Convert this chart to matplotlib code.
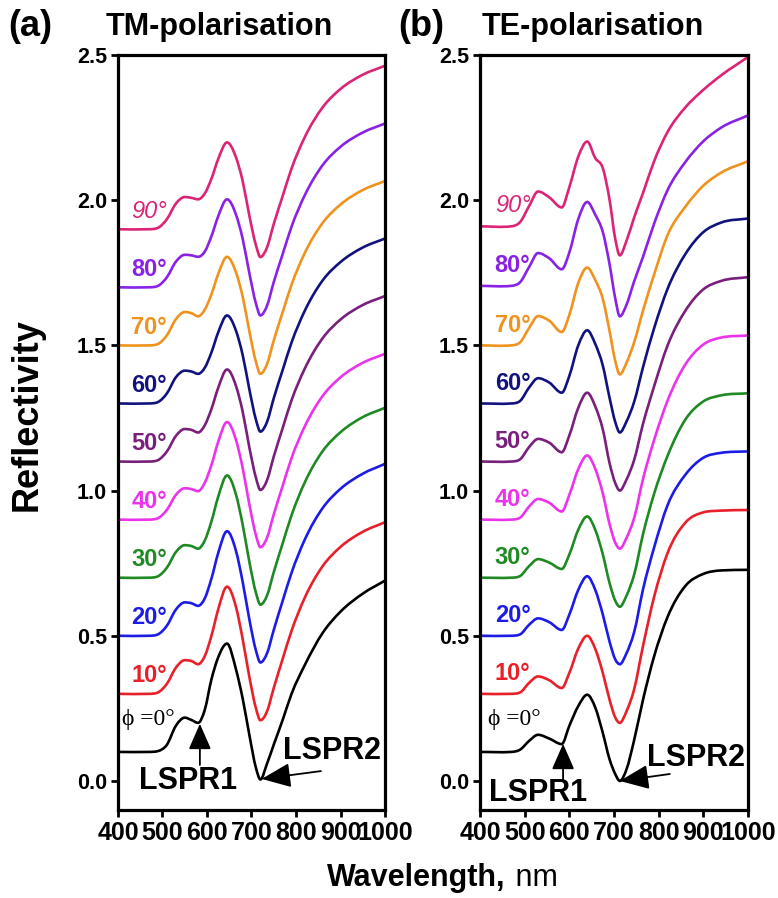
import numpy as np
import matplotlib
matplotlib.use("Agg")
import matplotlib.pyplot as plt
from matplotlib.path import Path
from matplotlib.patches import PathPatch

# ---------------- data ----------------
angle_labels = ["10°", "20°", "30°", "40°", "50°", "60°", "70°", "80°", "90°"]
angle_colors = ["#e8202a", "#1c1ce6", "#1f8a24", "#ec33ec", "#7a1f7c",
                "#12127e", "#f0921e", "#8a22e6", "#dc2477"]

# TM polarisation
tm_wl = [400, 470, 490, 510, 530, 550, 565, 580, 595, 610, 625, 645, 665,
         680, 695, 710, 720, 735, 750, 770, 790, 820, 860, 900, 950, 1000]
tm_0 = [0.10, 0.10, 0.103, 0.125, 0.19, 0.218, 0.21, 0.20, 0.245, 0.35, 0.425,
        0.473, 0.385, 0.285, 0.16, 0.045, 0.005, 0.06, 0.125, 0.21, 0.30, 0.40,
        0.51, 0.583, 0.645, 0.69]
tm_offsets = [0.3, 0.5, 0.7, 0.9, 1.1, 1.3, 1.5, 1.7, 1.9]
tm_10 = [0, 0, 0.005, 0.035, 0.09, 0.116, 0.113, 0.102, 0.130, 0.200, 0.290, 0.369, 0.300,
         0.190, 0.060, -0.050, -0.091, -0.060, 0.020, 0.120, 0.217, 0.332, 0.440, 0.506, 0.558, 0.591]
tm_20 = [0, 0, 0.005, 0.035, 0.09, 0.115, 0.112, 0.103, 0.129, 0.197, 0.284, 0.360, 0.293,
         0.187, 0.058, -0.051, -0.092, -0.060, 0.020, 0.120, 0.217, 0.332, 0.440, 0.506, 0.558, 0.592]
tm_30 = [0, 0, 0.005, 0.035, 0.088, 0.112, 0.109, 0.100, 0.128, 0.194, 0.278, 0.352, 0.287,
         0.184, 0.056, -0.052, -0.093, -0.061, 0.019, 0.118, 0.215, 0.329, 0.436, 0.501, 0.553, 0.585]
tm_40 = [0, 0, 0.005, 0.034, 0.085, 0.108, 0.105, 0.098, 0.127, 0.188, 0.267, 0.336, 0.275,
         0.179, 0.054, -0.054, -0.095, -0.062, 0.018, 0.116, 0.212, 0.322, 0.426, 0.490, 0.540, 0.571]
tm_50 = [0, 0, 0.005, 0.035, 0.088, 0.112, 0.109, 0.100, 0.125, 0.181, 0.253, 0.317, 0.261,
         0.173, 0.050, -0.056, -0.098, -0.064, 0.017, 0.115, 0.211, 0.321, 0.425, 0.489, 0.539, 0.570]
tm_60 = [0, 0, 0.005, 0.035, 0.09, 0.113, 0.110, 0.102, 0.123, 0.176, 0.244, 0.303, 0.251,
         0.168, 0.050, -0.056, -0.097, -0.063, 0.018, 0.115, 0.210, 0.320, 0.424, 0.487, 0.537, 0.568]
tm_70 = [0, 0, 0.005, 0.035, 0.09, 0.115, 0.111, 0.100, 0.123, 0.176, 0.245, 0.305, 0.252,
         0.169, 0.050, -0.057, -0.098, -0.064, 0.017, 0.114, 0.209, 0.319, 0.422, 0.485, 0.535, 0.566]
tm_80 = [0, 0, 0.005, 0.035, 0.088, 0.112, 0.110, 0.105, 0.123, 0.176, 0.244, 0.303, 0.251,
         0.168, 0.050, -0.056, -0.097, -0.063, 0.018, 0.114, 0.209, 0.318, 0.421, 0.484, 0.533, 0.564]
tm_90 = [0, 0, 0.005, 0.035, 0.088, 0.111, 0.108, 0.103, 0.123, 0.174, 0.241, 0.299, 0.248,
         0.167, 0.048, -0.055, -0.096, -0.062, 0.018, 0.114, 0.209, 0.318, 0.420, 0.483, 0.532, 0.563]

# TE polarisation
te_wl = [400, 470, 490, 510, 530, 555, 583, 600, 620, 640, 658, 675, 690,
         703, 713, 728, 745, 765, 790, 820, 860, 900, 940, 1000]
te_0 = [0.10, 0.10, 0.108, 0.138, 0.159, 0.146, 0.127, 0.19, 0.258, 0.297, 0.253, 0.165,
        0.075, 0.023, 0.0, 0.04, 0.14, 0.28, 0.43, 0.565, 0.672, 0.713, 0.725, 0.727]
te_offsets = [0.3, 0.5, 0.7, 0.9, 1.1, 1.3, 1.5, 1.705, 1.91]
te_10 = [0, 0, 0.005, 0.038, 0.06, 0.047, 0.02, 0.072, 0.156, 0.2, 0.155, 0.072, -0.02,
         -0.082, -0.1, -0.06, 0.015, 0.165, 0.335, 0.485, 0.59, 0.625, 0.631, 0.633]
te_20 = [0, 0, 0.005, 0.038, 0.06, 0.047, 0.02, 0.073, 0.158, 0.205, 0.158, 0.073, -0.02,
         -0.082, -0.098, -0.06, 0.012, 0.16, 0.305, 0.45, 0.555, 0.613, 0.63, 0.635]
te_30 = [0, 0, 0.006, 0.04, 0.064, 0.052, 0.03, 0.08, 0.165, 0.211, 0.165, 0.08, -0.018,
         -0.08, -0.1, -0.062, 0.01, 0.15, 0.29, 0.42, 0.545, 0.607, 0.628, 0.635]
te_40 = [0, 0, 0.007, 0.045, 0.071, 0.058, 0.028, 0.085, 0.174, 0.221, 0.175, 0.09, -0.015,
         -0.08, -0.1, -0.063, 0.005, 0.14, 0.275, 0.41, 0.535, 0.603, 0.627, 0.634]
te_50 = [0, 0, 0.008, 0.05, 0.078, 0.065, 0.032, 0.09, 0.185, 0.237, 0.19, 0.11, -0.005,
         -0.075, -0.1, -0.062, 0.005, 0.13, 0.26, 0.40, 0.52, 0.593, 0.622, 0.635]
te_60 = [0, 0, 0.009, 0.055, 0.087, 0.072, 0.037, 0.095, 0.2, 0.252, 0.205, 0.13, 0.02,
         -0.065, -0.1, -0.062, 0.005, 0.125, 0.26, 0.395, 0.515, 0.59, 0.623, 0.637]
te_70 = [0, 0, 0.011, 0.06, 0.101, 0.085, 0.046, 0.105, 0.215, 0.268, 0.225, 0.16, 0.05,
         -0.055, -0.1, -0.06, 0.01, 0.12, 0.245, 0.38, 0.478, 0.55, 0.595, 0.634]
te_80 = [0, 0, 0.013, 0.065, 0.113, 0.095, 0.057, 0.115, 0.23, 0.289, 0.245, 0.185, 0.075,
         -0.045, -0.105, -0.065, 0.015, 0.1, 0.215, 0.33, 0.427, 0.498, 0.545, 0.587]
te_90 = [0, 0, 0.015, 0.07, 0.12, 0.1, 0.065, 0.135, 0.24, 0.292, 0.235, 0.2, 0.092,
         -0.045, -0.1, -0.05, 0.03, 0.115, 0.225, 0.325, 0.41, 0.47, 0.52, 0.583]

x_ticks = [400, 500, 600, 700, 800, 900, 1000]
y_ticks = [0.0, 0.5, 1.0, 1.5, 2.0, 2.5]

# ---------------- helpers ----------------
SANS = ["Liberation Sans", "DejaVu Sans"]
NARROW = ["Liberation Sans Narrow", "Liberation Sans", "DejaVu Sans"]
SERIF = ["Liberation Serif", "DejaVu Serif"]


def smooth_path(x, y):
    """Smooth cubic Hermite curve through the points, drawn as a Bezier path."""
    x = np.asarray(x, float)
    y = np.asarray(y, float)
    h = np.diff(x)
    d = np.diff(y) / h
    m = np.zeros_like(y)
    for k in range(1, len(x) - 1):
        if d[k - 1] * d[k] > 0:
            c = (d[k - 1] * h[k] + d[k] * h[k - 1]) / (h[k - 1] + h[k])
            lim = 3 * min(abs(d[k - 1]), abs(d[k]))
            m[k] = np.sign(c) * min(abs(c), lim)
        elif d[k - 1] == 0 or d[k] == 0:
            m[k] = 0.25 * (d[k - 1] + d[k])
    m[0] = d[0]
    m[-1] = d[-1]
    verts = [(x[0], y[0])]
    codes = [Path.MOVETO]
    for k in range(len(x) - 1):
        verts += [(x[k] + h[k] / 3, y[k] + m[k] * h[k] / 3),
                  (x[k + 1] - h[k] / 3, y[k + 1] - m[k + 1] * h[k] / 3),
                  (x[k + 1], y[k + 1])]
        codes += [Path.CURVE4] * 3
    return Path(verts, codes)


def draw_curve(ax, x, y, color):
    ax.add_patch(PathPatch(smooth_path(x, y), facecolor="none", edgecolor=color,
                           lw=1.9, capstyle="round", joinstyle="round"))


fig = plt.figure(figsize=(7.78, 8.98), dpi=100)
axA = fig.add_axes([118 / 778, 1 - 810 / 898, 267 / 778, 755 / 898])
axB = fig.add_axes([480 / 778, 1 - 810 / 898, 268 / 778, 755 / 898])

panels = [
    (axA, tm_wl, tm_0, [tm_10, tm_20, tm_30, tm_40, tm_50, tm_60, tm_70, tm_80, tm_90],
     tm_offsets, 430, 0.062, (408, 0.213),
     dict(l1_text=(557, 0.0), l1_tip=(584, 0.197), l1_tail=(584, 0.055),
          l2_text=(881, 0.103), l2_tip=(723, 0.007), l2_tail=(856, 0.034))),
    (axB, te_wl, te_0, [te_10, te_20, te_30, te_40, te_50, te_60, te_70, te_80, te_90],
     te_offsets, 433, 0.07, (417, 0.21),
     dict(l1_text=(530, -0.04), l1_tip=(586, 0.128), l1_tail=(586, 0.0),
          l2_text=(884, 0.078), l2_tip=(713, 0.0), l2_tail=(825, 0.024))),
]

for ax, wl, black, rels, offs, lab_x, lab_dy, phi_pos, ann in panels:
    draw_curve(ax, wl, black, "black")
    for rel, off, col, lab in zip(rels, offs, angle_colors, angle_labels):
        vals = np.asarray(rel) + off
        draw_curve(ax, wl, vals, col)
        if lab == "90°":
            ax.text(lab_x, off + lab_dy, lab, color=col, fontsize=17, style="italic",
                    family=SANS, ha="left", va="center")
        else:
            ax.text(lab_x, off + lab_dy, lab, color=col, fontsize=17, fontweight="bold",
                    family=SANS, ha="left", va="center")
    ax.text(phi_pos[0], phi_pos[1], "ϕ =0°", fontsize=17, family=SERIF,
            ha="left", va="center", color="black")

    # annotations
    ax.annotate("", xy=ann["l1_tip"], xytext=ann["l1_tail"],
                arrowprops=dict(arrowstyle="-|>,head_length=0.8,head_width=0.35",
                                mutation_scale=20, color="black", lw=1.3,
                                shrinkA=0, shrinkB=0))
    ax.annotate("", xy=ann["l2_tip"], xytext=ann["l2_tail"],
                arrowprops=dict(arrowstyle="-|>,head_length=0.9,head_width=0.38",
                                mutation_scale=20, color="black", lw=1.3,
                                shrinkA=0, shrinkB=0))
    ax.text(*ann["l1_text"], "LSPR1", fontsize=22, fontweight="bold", family=SANS,
            ha="center", va="center")
    ax.text(*ann["l2_text"], "LSPR2", fontsize=22, fontweight="bold", family=SANS,
            ha="center", va="center")

    ax.set_xlim(400, 1000)
    ax.set_ylim(-0.1, 2.5)
    ax.set_xticks(x_ticks)
    ax.set_xticklabels([str(t) for t in x_ticks], fontsize=18, fontweight="bold",
                       family=NARROW)
    ax.set_yticks(y_ticks)
    ax.set_yticklabels([f"{t:.1f}" for t in y_ticks], fontsize=15.5, fontweight="bold",
                       family=SANS)
    ax.tick_params(direction="out", length=5, width=2, pad=3)
    for s in ax.spines.values():
        s.set_linewidth(2.3)

# titles and axis labels
fig.text(8 / 778, 1 - 27 / 898, "(a)", fontsize=26, fontweight="bold", family=SANS,
         ha="left", va="center")
fig.text(106 / 778, 1 - 27 / 898, "TM-polarisation", fontsize=22, fontweight="bold",
         family=SANS, ha="left", va="center")
fig.text(398 / 778, 1 - 27 / 898, "(b)", fontsize=26, fontweight="bold", family=SANS,
         ha="left", va="center")
fig.text(482 / 778, 1 - 27 / 898, "TE-polarisation", fontsize=22, fontweight="bold",
         family=SANS, ha="left", va="center")
fig.text(27 / 778, 1 - 415 / 898, "Reflectivity", fontsize=26, fontweight="bold",
         family=SANS, rotation=90, ha="center", va="center")
fig.text(505 / 778, 1 - 878 / 898, "Wavelength,", fontsize=22, fontweight="bold",
         family=SANS, ha="right", va="center")
fig.text(507 / 778, 1 - 878 / 898, " nm", fontsize=22, family=SANS,
         ha="left", va="center")

fig.savefig("out.png", dpi=100)
